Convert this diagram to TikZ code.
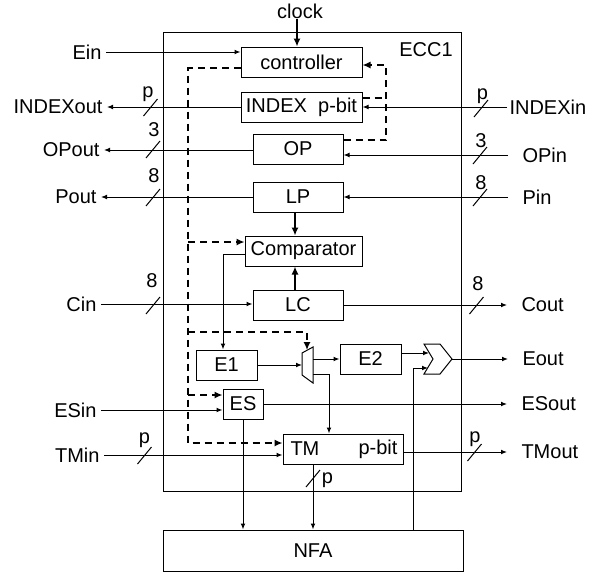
\documentclass[tikz,border=0pt]{standalone}
\usepackage{fontspec}
\setmainfont{Liberation Sans}
\usetikzlibrary{arrows.meta}

\begin{document}
\begin{tikzpicture}[x=0.5pt,y=-0.5pt,line width=0.5pt,
	font=\fontsize{10}{12}\selectfont,
	box/.style={draw,inner sep=0pt,minimum height=15pt,minimum width=#1},
	lbl/.style={inner sep=0pt},
	lblL/.style={anchor=east,inner xsep=2pt,inner ysep=0pt},
	lblR/.style={anchor=west,inner xsep=7pt,inner ysep=0pt},
	sig/.style={-{Latex[length=3pt,width=2.4pt]}},
	ctl/.style={line width=1.2pt,dash pattern=on 3.5pt off 2.5pt,-{Latex[length=4pt,width=3.6pt]}},
	fat/.style={line width=1.3pt,-{Latex[length=4pt,width=3.6pt]}}]
	\useasboundingbox (0,0) rectangle (594,574);
	% Define the outer block
	\node[draw,inner sep=0pt,minimum width=149pt,minimum height=229.5pt] (ecc) at (312,261.5) {};
	\node[lbl] (ecclbl) at (426,50) {ECC1};
	\node[lbl] (clk) at (300,11) {clock};
	% Boxes inside
	\node[box=60.5pt] (ctrl) at (301.5,62) {controller};
	\node[box=60.5pt] (index) at (301.5,107) {INDEX\ \ p-bit};
	\node[box=45pt] (op) at (298,149) {OP};
	\node[box=45pt] (lp) at (298,197) {LP};
	\node[box=58.5pt] (comp) at (303.5,251) {Comparator};
	\node[box=45pt] (lc) at (298,305) {LC};
	\node[box=30.5pt] (eone) at (226.5,365) {E1};
	\node[box=30.5pt] (etwo) at (370.5,359) {E2};
	\node[box=20pt] (es) at (243,404) {ES};
	\node[box=60pt] (tm) at (343,449) {};
	\node[lbl,anchor=west] (tmname) at (290,449) {TM};
	\node[lbl,anchor=east] (tmbit) at (398,449) {p-bit};
	\node[draw,inner sep=0pt,minimum width=150pt,minimum height=20.5pt] (nfa) at (313,550.5) {NFA};
	% Mux and OR gate
	\draw (302,353) -- (313,347) -- (313,383) -- (302,375) -- cycle;
	\coordinate (muxtop) at (307,350);
	\coordinate (muxin) at (302,365);
	\coordinate (muxout) at (313,359);
	\coordinate (muxlow) at (313,374);
	\draw (424,344) -- (440,344) -- (452,359) -- (440,374) -- (424,374) -- (433,359) -- cycle;
	\coordinate (orin1) at (429,353);
	\coordinate (orin2) at (428,368);
	\coordinate (orout) at (452,359);
	% Ports
	\node[lblL] (ein) at (106,52) {Ein};
	\node[lblL] (idxout) at (107,107) {INDEXout};
	\node[lblL] (opout) at (104,150) {OPout};
	\node[lblL] (pout) at (101,197) {Pout};
	\node[lblL] (cin) at (101,304) {Cin};
	\node[lblL] (esin) at (101,410) {ESin};
	\node[lblL] (tmin) at (104,455) {TMin};
	\node[lblR,inner xsep=1pt] (idxin) at (507,107) {INDEXin};
	\node[lblR] (opin) at (508,155) {OPin};
	\node[lblR] (pin) at (508,197) {Pin};
	\node[lblR] (cout) at (507,305) {Cout};
	\node[lblR] (eout) at (508,359) {Eout};
	\node[lblR] (esout) at (507,404) {ESout};
	\node[lblR] (tmout) at (507,452) {TMout};
	% Signals
	\draw[fat] ([xshift=-1.5pt]clk.south) -- ([xshift=-1.5pt]clk.south |- ctrl.north);
	\draw[sig] (ein.east) -- (ein.east -| ctrl.west);
	\draw[sig] (index.west) -- (idxout.east);
	\draw[sig] (op.west |- opout.east) -- (opout.east);
	\draw[sig] (lp.west |- pout.east) -- (pout.east);
	\draw[sig] (cin.east) -- (cin.east -| lc.west);
	\draw[sig] (esin.east) -- (esin.east -| es.west);
	\draw[sig] (tmin.east) -- (tmin.east -| tm.west);
	\draw[sig] (idxin.west) -- (idxin.west -| index.east);
	\draw[sig] (opin.west) -- (opin.west -| op.east);
	\draw[sig] (pin.west) -- (pin.west -| lp.east);
	\draw[sig] (lc.east |- cout.west) -- (cout.west);
	\draw[sig] (orout) -- (eout.west);
	\draw[sig] (es.east |- esout.west) -- (esout.west);
	\draw[sig] (tm.east |- tmout.west) -- (tmout.west);
	\draw[fat] ([xshift=-1.5pt]lp.south) -- ([xshift=-1.5pt]lp.south |- comp.north);
	\draw[fat] ([xshift=-1.5pt]lc.north) -- ([xshift=-1.5pt]lc.north |- comp.south);
	\draw[sig] ([yshift=-1.5pt]comp.west) -| ([xshift=-1.75pt]eone.north);
	\draw[sig] (eone.east) -- (muxin);
	\draw[sig] (muxout) -- (etwo.west);
	\draw[sig] (muxlow) -| ([xshift=-7pt]tm.north);
	\draw[sig] (etwo.east |- orin1) -- (orin1);
	\coordinate (fb) at (413,368);
	\draw[sig] (nfa.north -| fb) -- (fb) -- (orin2);
	\draw[sig] (es.south) -- (es.south |- nfa.north);
	\draw[sig] ([xshift=-15pt]tm.south) -- ([xshift=-15pt]tm.south |- nfa.north);
	% Control lines
	\coordinate (trunk) at (188,443);
	\coordinate (muxsel) at (307,332);
	\coordinate (loop) at (386,65);
	\draw[ctl] ([yshift=-3pt]ctrl.west) -| (trunk) -- (trunk -| tm.west);
	\draw[ctl] ([yshift=4.5pt]comp.west -| trunk) -- ([yshift=4.5pt]comp.west);
	\draw[ctl] ([yshift=4.5pt]es.west -| trunk) -- ([yshift=4.5pt]es.west);
	\draw[ctl] (trunk |- muxsel) -- (muxsel) -- (muxtop);
	\draw[ctl] ([yshift=4.5pt]op.east) -| (loop) -- (loop -| ctrl.east);
	\draw[ctl,-] ([yshift=4.5pt]index.east) -- ([yshift=4.5pt]index.east -| loop);
	% Bus widths
	\foreach \x/\y/\lx/\ly/\w [count=\i] in {150.5/107/148/94/p, 153/149/154/130/3, 153/197/154/176/8,
		153/305/152/281/8, 144.5/455/144.5/440/p, 481/108/482.5/96/p, 480/155/481/141/3,
		480/197/481/183/8, 476.5/305/478/284/8, 474.5/452/475/439/p, 313/478/327.5/480/p} {
		\draw (\x-7,\y+9) -- (\x+7,\y-8);
		\node[lbl] (bus\i) at (\lx,\ly) {\w};}
\end{tikzpicture}
\end{document}
